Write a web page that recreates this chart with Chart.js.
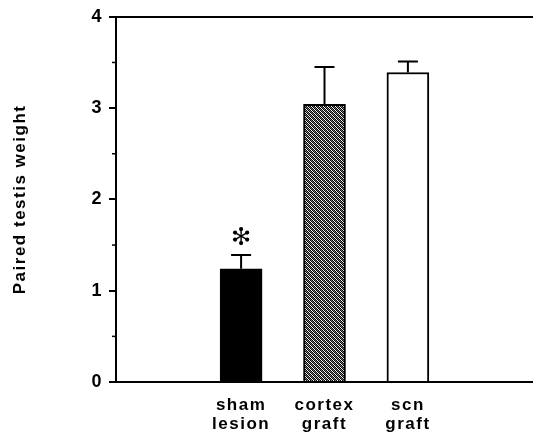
<!DOCTYPE html>
<html>
<head>
<meta charset="utf-8">
<script src="https://cdn.jsdelivr.net/npm/chart.js@4.4.1/dist/chart.umd.min.js"></script>
<style>
    html, body { margin: 0; padding: 0; background: #ffffff; }
    #wrap { width: 533px; height: 432px; }
</style>
</head>
<body>
<div id="wrap"><canvas id="testisChart"></canvas></div>
<script>

// ======================================
// Data
// ======================================

const groups = [
    ["sham", "lesion"],
    ["cortex", "graft"],
    ["scn", "graft"]
];

const means = [1.24, 3.04, 3.39];

const sem = [0.15, 0.41, 0.12];

const significant = [true, false, false];

const yTicks = [0, 1, 2, 3, 4];

const minorTicks = [0.5, 1.5, 2.5, 3.5];

// ======================================
// Styles
// ======================================

const ink = "#000000";
const fontFamily = "'Liberation Sans', Arial, Helvetica, sans-serif";

function stipple() {

    const c = document.createElement("canvas");
    c.width = 4;
    c.height = 4;

    const g = c.getContext("2d");
    const shades = ["#000000", "#7a7a7a", "#ffffff"];
    const grid = [
        [0, 2, 0, 1],
        [1, 0, 2, 0],
        [0, 1, 0, 2],
        [2, 0, 1, 0]
    ];

    grid.forEach((row, y) => {
        row.forEach((s, x) => {
            g.fillStyle = shades[s];
            g.fillRect(x, y, 1, 1);
        });
    });

    return g.createPattern(c, "repeat");

}

const fills = ["#000000", stipple(), "#ffffff"];

// one empty slot on each side of the groups
const labels = ["", ...groups, ""];
const barData = [null, ...means, null];
const barFill = ["transparent", ...fills, "transparent"];

// ======================================
// Plugins
// ======================================

const letterSpacing = {

    id: "letterSpacing",

    beforeDraw(chart) {
        chart.ctx.letterSpacing = "1.5px";
    }

};

const errorBars = {

    id: "errorBars",

    afterDatasetsDraw(chart) {

        const { ctx, scales: { x, y } } = chart;

        ctx.save();
        ctx.strokeStyle = ink;
        ctx.fillStyle = ink;
        ctx.lineWidth = 2;

        means.forEach((m, i) => {

            const px = x.getPixelForValue(i + 1);
            const yBar = y.getPixelForValue(m);
            const yCap = y.getPixelForValue(m + sem[i]);

            ctx.beginPath();
            ctx.moveTo(px, yBar);
            ctx.lineTo(px, yCap);
            ctx.moveTo(px - 10, yCap);
            ctx.lineTo(px + 10, yCap);
            ctx.stroke();

            if (significant[i]) {

                const cy = yCap - 19;
                const r = 7;

                ctx.lineWidth = 1.4;

                for (let k = 0; k < 6; k++) {

                    const a = Math.PI / 2 + k * Math.PI / 3;
                    const ex = px + r * Math.cos(a);
                    const ey = cy - r * Math.sin(a);

                    ctx.beginPath();
                    ctx.moveTo(px, cy);
                    ctx.lineTo(ex, ey);
                    ctx.stroke();

                    ctx.beginPath();
                    ctx.arc(ex, ey, 2.1, 0, Math.PI * 2);
                    ctx.fill();

                }

                ctx.lineWidth = 2;

            }

        });

        // minor ticks on the y axis
        ctx.lineWidth = 1.5;
        minorTicks.forEach(v => {
            const py = y.getPixelForValue(v);
            ctx.beginPath();
            ctx.moveTo(y.right - 4, py);
            ctx.lineTo(y.right, py);
            ctx.stroke();
        });

        ctx.restore();

    }

};

// ======================================
// Chart
// ======================================

new Chart(document.getElementById("testisChart"), {

    type: "bar",

    data: {

        labels: labels,

        datasets: [{

            data: barData,

            backgroundColor: barFill,

            borderColor: ink,

            borderWidth: 2,

            borderSkipped: "bottom",

            barThickness: 42

        }]

    },

    options: {

        responsive: true,

        maintainAspectRatio: false,

        animation: false,

        events: [],

        layout: {

            padding: { top: 15, right: 0, bottom: 0, left: 0 }

        },

        plugins: {

            legend: { display: false },

            tooltip: { enabled: false }

        },

        scales: {

            x: {

                grid: {

                    display: false,

                    drawTicks: false

                },

                border: {

                    display: true,

                    color: ink,

                    width: 2

                },

                ticks: {

                    color: ink,

                    padding: 14,

                    maxRotation: 0,

                    autoSkip: false,

                    font: {

                        family: fontFamily,

                        size: 17,

                        weight: "bold",

                        lineHeight: 1.1

                    }

                },

                afterFit(scale) {

                    scale.height = 50;

                }

            },

            y: {

                min: 0,

                max: 4,

                afterBuildTicks(scale) {

                    scale.ticks = yTicks.map(v => ({ value: v }));

                },

                ticks: {

                    color: ink,

                    padding: 6,

                    font: {

                        family: fontFamily,

                        size: 18,

                        weight: "bold"

                    }

                },

                grid: {

                    color: ctx => ctx.tick && ctx.tick.value === 4 ? ink : "transparent",

                    lineWidth: 2,

                    tickColor: ink,

                    tickLength: 7,

                    tickWidth: 2

                },

                border: {

                    display: true,

                    color: ink,

                    width: 2

                },

                title: {

                    display: true,

                    text: "Paired testis weight",

                    color: ink,

                    padding: { top: 10, bottom: 0 },

                    font: {

                        family: fontFamily,

                        size: 17,

                        weight: "bold"

                    }

                },

                afterFit(scale) {

                    scale.width = 116;

                }

            }

        }

    },

    plugins: [letterSpacing, errorBars]

});

</script>
</body>
</html>
